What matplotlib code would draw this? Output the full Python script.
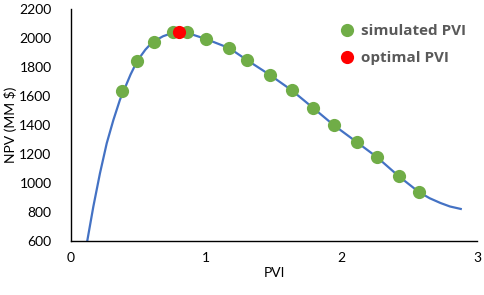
import matplotlib
matplotlib.use('Agg')
import matplotlib.pyplot as plt

plt.rcParams['font.family'] = ['Lato', 'DejaVu Sans']

# fitted NPV curve
curve_pvi = [0.12, 0.165, 0.214, 0.264, 0.313, 0.362, 0.39, 0.44, 0.49, 0.55, 0.60, 0.68,
             0.75, 0.80, 0.86, 1.00, 1.17, 1.30, 1.47, 1.63, 1.79, 1.94, 2.11,
             2.26, 2.42, 2.57, 2.65, 2.73, 2.80, 2.88]
curve_npv = [600, 837, 1067, 1274, 1434, 1575, 1637, 1748, 1843, 1920, 1970, 2012,
             2035, 2040, 2035, 1992, 1930, 1848, 1745, 1640, 1517, 1400, 1283,
             1179, 1048, 938, 895, 862, 838, 821]

# simulated runs
sim_pvi = [0.38, 0.49, 0.61, 0.75, 0.86, 1.00, 1.17, 1.30, 1.47, 1.63,
           1.79, 1.94, 2.11, 2.26, 2.42, 2.57]
sim_npv = [1637, 1843, 1975, 2038, 2038, 1992, 1931, 1845, 1745, 1640,
           1517, 1400, 1283, 1179, 1048, 940]

opt_pvi = [0.80]
opt_npv = [2040]

fig = plt.figure(figsize=(4.85, 2.95), dpi=100)
ax = fig.add_axes([0.1464, 0.1831, 0.8371, 0.7864])

ax.plot(curve_pvi, curve_npv, color='#4472C4', lw=1.6, zorder=1)
ax.plot(sim_pvi, sim_npv, 'o', color='#70AD47', ms=9.5, mec='none', zorder=2,
        label='simulated PVI')
ax.plot(opt_pvi, opt_npv, 'o', color='#FF0000', ms=9.5, mec='none', zorder=3,
        label='optimal PVI')

ax.set_xlim(0, 3)
ax.set_ylim(600, 2200)
ax.set_xticks([0, 1, 2, 3])
ax.set_yticks(range(600, 2201, 200))
ax.tick_params(length=0, labelsize=10, pad=8)
ax.tick_params(axis='y', pad=14)
for s in ['top', 'right']:
    ax.spines[s].set_visible(False)
for s in ['left', 'bottom']:
    ax.spines[s].set_linewidth(1.0)

ax.set_xlabel('PVI', fontsize=10, labelpad=2)
ax.set_ylabel('NPV (MM $)', fontsize=10, labelpad=2)

leg = ax.legend(loc='upper left', bbox_to_anchor=(0.643, 0.96), frameon=False,
                handletextpad=0.3, labelspacing=0.85, borderaxespad=0,
                prop={'family': 'Open Sans', 'weight': 'bold', 'size': 11},
                handlelength=1.2)
for t in leg.get_texts():
    t.set_color('#595959')

fig.savefig('out.png', dpi=100)
